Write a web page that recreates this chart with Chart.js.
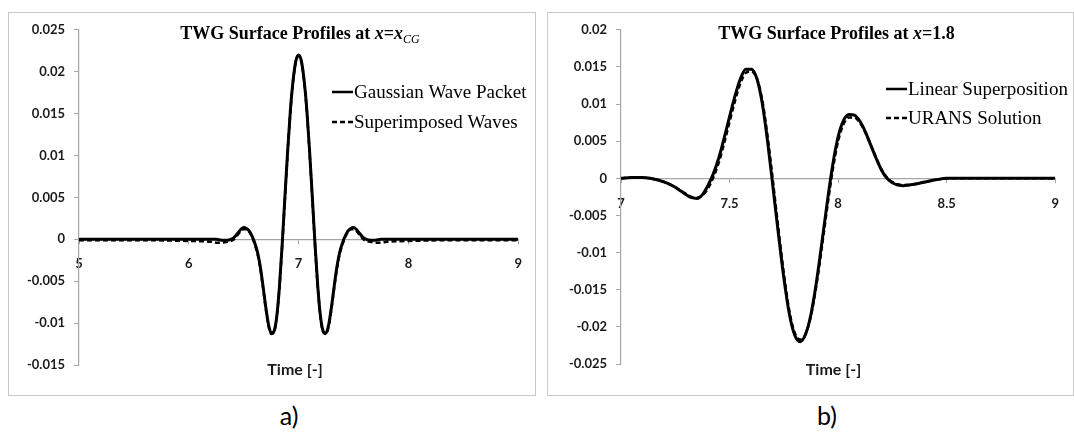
<!DOCTYPE html>
<html>
<head>
<meta charset="utf-8">
<title>TWG Surface Profiles</title>
<script src="https://cdn.jsdelivr.net/npm/chart.js@4.4.1/dist/chart.umd.min.js"></script>
<style>
  html, body { margin: 0; padding: 0; background: #fff; }
  body { width: 1074px; height: 432px; position: relative; overflow: hidden; }
  .frame { position: absolute; top: 12px; height: 384px; border: 1px solid #c8c8c8; box-sizing: border-box; }
  .frame canvas { position: absolute; left: 0; top: 0; }
  .caption { position: absolute; top: 400px; width: 60px; text-align: center; font: 25px Lato, sans-serif; line-height: 30px; color: #000; }
</style>
</head>
<body>
<div class="frame" style="left:8px;width:528px;"><canvas id="chartA" width="526" height="382"></canvas></div>
<div class="frame" style="left:547px;width:527px;"><canvas id="chartB" width="525" height="382"></canvas></div>
<div class="caption" style="left:259px;">a)</div>
<div class="caption" style="left:797px;">b)</div>
<script>
// panel a) - surface elevation at x = x_CG
const timeA = [
  5.0, 5.5, 6.0, 6.2, 6.25, 6.3, 6.35,
  6.4, 6.425, 6.45, 6.475, 6.5, 6.525, 6.55, 6.575, 6.6, 6.625, 6.65, 6.675,
  6.7, 6.725, 6.75, 6.775, 6.8, 6.825, 6.85, 6.875, 6.9, 6.925, 6.95, 6.975,
  7.0, 7.025, 7.05, 7.075, 7.1, 7.125, 7.15, 7.175, 7.2, 7.225, 7.25, 7.275,
  7.3, 7.325, 7.35, 7.375, 7.4, 7.425, 7.45, 7.475, 7.5, 7.525, 7.55, 7.575, 7.6,
  7.65, 7.7, 7.75, 7.8, 8.0, 8.5, 9.0
];
const gaussianPacket = [
  0, 0, 0, 0, 0, -0.0001, -0.0001,
  0.0001, 0.0004, 0.0008, 0.0012, 0.0014, 0.0013, 0.0010, 0.0004, -0.0004, -0.0015, -0.0032, -0.0055,
  -0.0080, -0.0101, -0.0112, -0.0110, -0.0093, -0.0057, -0.0007, 0.0050, 0.0105, 0.0154, 0.0190, 0.0213,
  0.0220, 0.0213, 0.0190, 0.0154, 0.0105, 0.0050, -0.0007, -0.0057, -0.0093, -0.0110, -0.0112, -0.0101,
  -0.0080, -0.0055, -0.0032, -0.0015, -0.0004, 0.0004, 0.0010, 0.0013, 0.0014, 0.0012, 0.0008, 0.0004, 0.0001,
  -0.0001, -0.0001, 0, 0, 0, 0, 0
];
const superimposedWaves = [
  -0.0001, -0.0001, -0.0002, -0.0003, -0.0004, -0.0004, -0.0003,
  -0.0001, 0.0002, 0.0006, 0.0010, 0.0012, 0.0012, 0.0009, 0.0003, -0.0006, -0.0017, -0.0034, -0.0057,
  -0.0082, -0.0103, -0.0113, -0.0111, -0.0094, -0.0058, -0.0008, 0.0048, 0.0103, 0.0152, 0.0189, 0.0212,
  0.0219, 0.0212, 0.0189, 0.0152, 0.0103, 0.0048, -0.0008, -0.0058, -0.0094, -0.0111, -0.0113, -0.0103,
  -0.0082, -0.0057, -0.0034, -0.0017, -0.0006, 0.0003, 0.0009, 0.0012, 0.0012, 0.0010, 0.0006, 0.0002, -0.0001,
  -0.0003, -0.0004, -0.0004, -0.0003, -0.0002, -0.0001, -0.0001
];
const xTicksA = [5, 6, 7, 8, 9];
const yTicksA = [-0.015, -0.01, -0.005, 0, 0.005, 0.01, 0.015, 0.02, 0.025];

// panel b) - surface elevation at x = 1.8
const timeB = [
  7.0, 7.05, 7.1, 7.15, 7.2,
  7.225, 7.25, 7.275, 7.3, 7.325, 7.35, 7.375, 7.4, 7.425, 7.45, 7.475, 7.5,
  7.525, 7.55, 7.575, 7.6, 7.625, 7.65, 7.675, 7.7, 7.725, 7.75, 7.775, 7.8,
  7.825, 7.85, 7.875, 7.9, 7.925, 7.95, 7.975, 8.0, 8.025, 8.05, 8.075, 8.1,
  8.125, 8.15, 8.175, 8.2, 8.225, 8.25, 8.275, 8.3, 8.325, 8.35,
  8.4, 8.45, 8.5, 8.6, 8.8, 9.0
];
const linearSuperposition = [
  0, 0.0001, 0.0001, -0.0001, -0.0005,
  -0.0008, -0.0012, -0.0017, -0.0022, -0.0026, -0.0027, -0.0022, -0.0010, 0.0006, 0.0027, 0.0054, 0.0083,
  0.0111, 0.0134, 0.0147, 0.0147, 0.0135, 0.0102, 0.0050, -0.0012, -0.0075, -0.0134, -0.0182, -0.0211,
  -0.0220, -0.0210, -0.0183, -0.0140, -0.0087, -0.0032, 0.0018, 0.0056, 0.0078, 0.0086, 0.0085, 0.0077,
  0.0063, 0.0045, 0.0027, 0.0011, 0, -0.0006, -0.0009, -0.0010, -0.0009, -0.0008,
  -0.0005, -0.0002, 0, 0, 0, 0
];
const uransSolution = [
  0, 0.0001, 0.0001, -0.0001, -0.0005,
  -0.0008, -0.0012, -0.0017, -0.0021, -0.0025, -0.0026, -0.0023, -0.0014, 0.0001, 0.0021, 0.0047, 0.0076,
  0.0104, 0.0128, 0.0142, 0.0144, 0.0135, 0.0106, 0.0057, -0.0004, -0.0068, -0.0128, -0.0178, -0.0208,
  -0.0217, -0.0210, -0.0185, -0.0144, -0.0093, -0.0039, 0.0011, 0.0050, 0.0073, 0.0082, 0.0082, 0.0075,
  0.0062, 0.0045, 0.0028, 0.0012, 0.0001, -0.0005, -0.0008, -0.0009, -0.0009, -0.0008,
  -0.0005, -0.0002, 0, 0, 0, 0
];
const xTicksB = [7, 7.5, 8, 8.5, 9];
const yTicksB = [-0.025, -0.02, -0.015, -0.01, -0.005, 0, 0.005, 0.01, 0.015, 0.02];

const SERIF = '"Liberation Serif", "Times New Roman", serif';
const SANS = 'Lato, "Open Sans", sans-serif';

const toPoints = (xs, ys) => xs.map((x, i) => ({ x, y: ys[i] }));
const fmt = v => String(+v.toFixed(4));

// title, legend and axis caption sit inside the plot like a spreadsheet chart
const panelText = {
  id: "panelText",
  afterDraw(chart, args, opts) {
    const ctx = chart.ctx;
    ctx.save();
    ctx.fillStyle = "#000";

    let width = 0;
    opts.title.forEach(part => {
      ctx.font = part.font;
      width += ctx.measureText(part.text).width;
    });
    let x = opts.titleX - width / 2;
    ctx.textBaseline = "alphabetic";
    opts.title.forEach(part => {
      ctx.font = part.font;
      ctx.fillText(part.text, x, opts.titleY + (part.dy || 0));
      x += ctx.measureText(part.text).width;
    });

    chart.data.datasets.forEach((ds, i) => {
      const y = opts.legendY + i * opts.legendGap;
      ctx.strokeStyle = "#000";
      ctx.lineWidth = 2.5;
      ctx.setLineDash(ds.borderDash || []);
      ctx.beginPath();
      ctx.moveTo(opts.legendX, y);
      ctx.lineTo(opts.legendX + 21, y);
      ctx.stroke();
      ctx.setLineDash([]);
      ctx.font = `19px ${SERIF}`;
      ctx.textBaseline = "middle";
      ctx.fillText(ds.label, opts.legendX + 22, y + 1);
    });

    ctx.font = `bold 16px ${SANS}`;
    ctx.textAlign = "center";
    ctx.textBaseline = "middle";
    ctx.fillStyle = "#1a1a1a";
    ctx.fillText(opts.axisTitle, opts.axisTitleX, opts.axisTitleY);
    ctx.restore();
  },
};

function buildChart(canvas, cfg) {
  return new Chart(canvas, {
    type: "line",
    data: {
      datasets: cfg.series.map(s => ({
        label: s.label,
        data: toPoints(cfg.time, s.values),
        borderColor: "#000",
        borderWidth: s.dash ? 2.5 : 3,
        borderDash: s.dash,
        pointRadius: 0,
        cubicInterpolationMode: "monotone",
        fill: false,
      })),
    },
    options: {
      responsive: false,
      animation: false,
      layout: { padding: cfg.padding },
      plugins: {
        legend: { display: false },
        tooltip: { enabled: false },
        panelText: cfg.text,
      },
      scales: {
        x: {
          type: "linear",
          position: { y: 0 },
          min: cfg.xTicks[0],
          max: cfg.xTicks[cfg.xTicks.length - 1],
          afterBuildTicks: scale => { scale.ticks = cfg.xTicks.map(value => ({ value })); },
          ticks: {
            callback: fmt,
            color: "#1a1a1a",
            font: { family: SANS, size: 13, weight: "bold" },
            padding: cfg.xLabelPad,
            maxRotation: 0,
          },
          grid: { drawOnChartArea: false, drawTicks: true, tickLength: 4, color: "#a6a6a6" },
          border: { color: "#a6a6a6", width: 1.2 },
        },
        y: {
          type: "linear",
          position: "left",
          min: cfg.yTicks[0],
          max: cfg.yTicks[cfg.yTicks.length - 1],
          afterBuildTicks: scale => { scale.ticks = cfg.yTicks.map(value => ({ value })); },
          afterFit: scale => { scale.width = cfg.yAxisWidth; },
          ticks: {
            callback: fmt,
            color: "#1a1a1a",
            font: { family: SANS, size: 13, weight: "bold" },
            padding: 9,
          },
          grid: { drawOnChartArea: false, drawTicks: true, tickLength: 5, color: "#a6a6a6" },
          border: { color: "#a6a6a6", width: 1.2 },
        },
      },
    },
    plugins: [panelText],
  });
}

buildChart(document.getElementById("chartA"), {
  time: timeA,
  series: [
    { label: "Gaussian Wave Packet", values: gaussianPacket },
    { label: "Superimposed Waves", values: superimposedWaves, dash: [5, 3] },
  ],
  xTicks: xTicksA,
  yTicks: yTicksA,
  yAxisWidth: 70,
  xLabelPad: 13,
  padding: { top: 12, right: 13, bottom: 30, left: 0 },
  text: {
    title: [
      { text: "TWG Surface Profiles at ", font: `bold 18px ${SERIF}` },
      { text: "x", font: `italic bold 18px ${SERIF}` },
      { text: "=", font: `bold 18px ${SERIF}` },
      { text: "x", font: `italic bold 18px ${SERIF}` },
      { text: "CG", font: `italic 12px ${SERIF}`, dy: 4 },
    ],
    titleX: 291,
    titleY: 25.5,
    legendX: 323,
    legendY: 79,
    legendGap: 30,
    axisTitle: "Time [-]",
    axisTitleX: 286,
    axisTitleY: 357,
  },
});

buildChart(document.getElementById("chartB"), {
  time: timeB,
  series: [
    { label: "Linear Superposition", values: linearSuperposition },
    { label: "URANS Solution", values: uransSolution, dash: [5, 3] },
  ],
  xTicks: xTicksB,
  yTicks: yTicksB,
  yAxisWidth: 73,
  xLabelPad: 14,
  padding: { top: 11, right: 13, bottom: 31, left: 0 },
  text: {
    title: [
      { text: "TWG Surface Profiles at ", font: `bold 18px ${SERIF}` },
      { text: "x", font: `italic bold 18px ${SERIF}` },
      { text: "=1.8", font: `bold 18px ${SERIF}` },
    ],
    titleX: 288.5,
    titleY: 26,
    legendX: 338,
    legendY: 76,
    legendGap: 29,
    axisTitle: "Time [-]",
    axisTitleX: 285.5,
    axisTitleY: 357,
  },
});
</script>
</body>
</html>
